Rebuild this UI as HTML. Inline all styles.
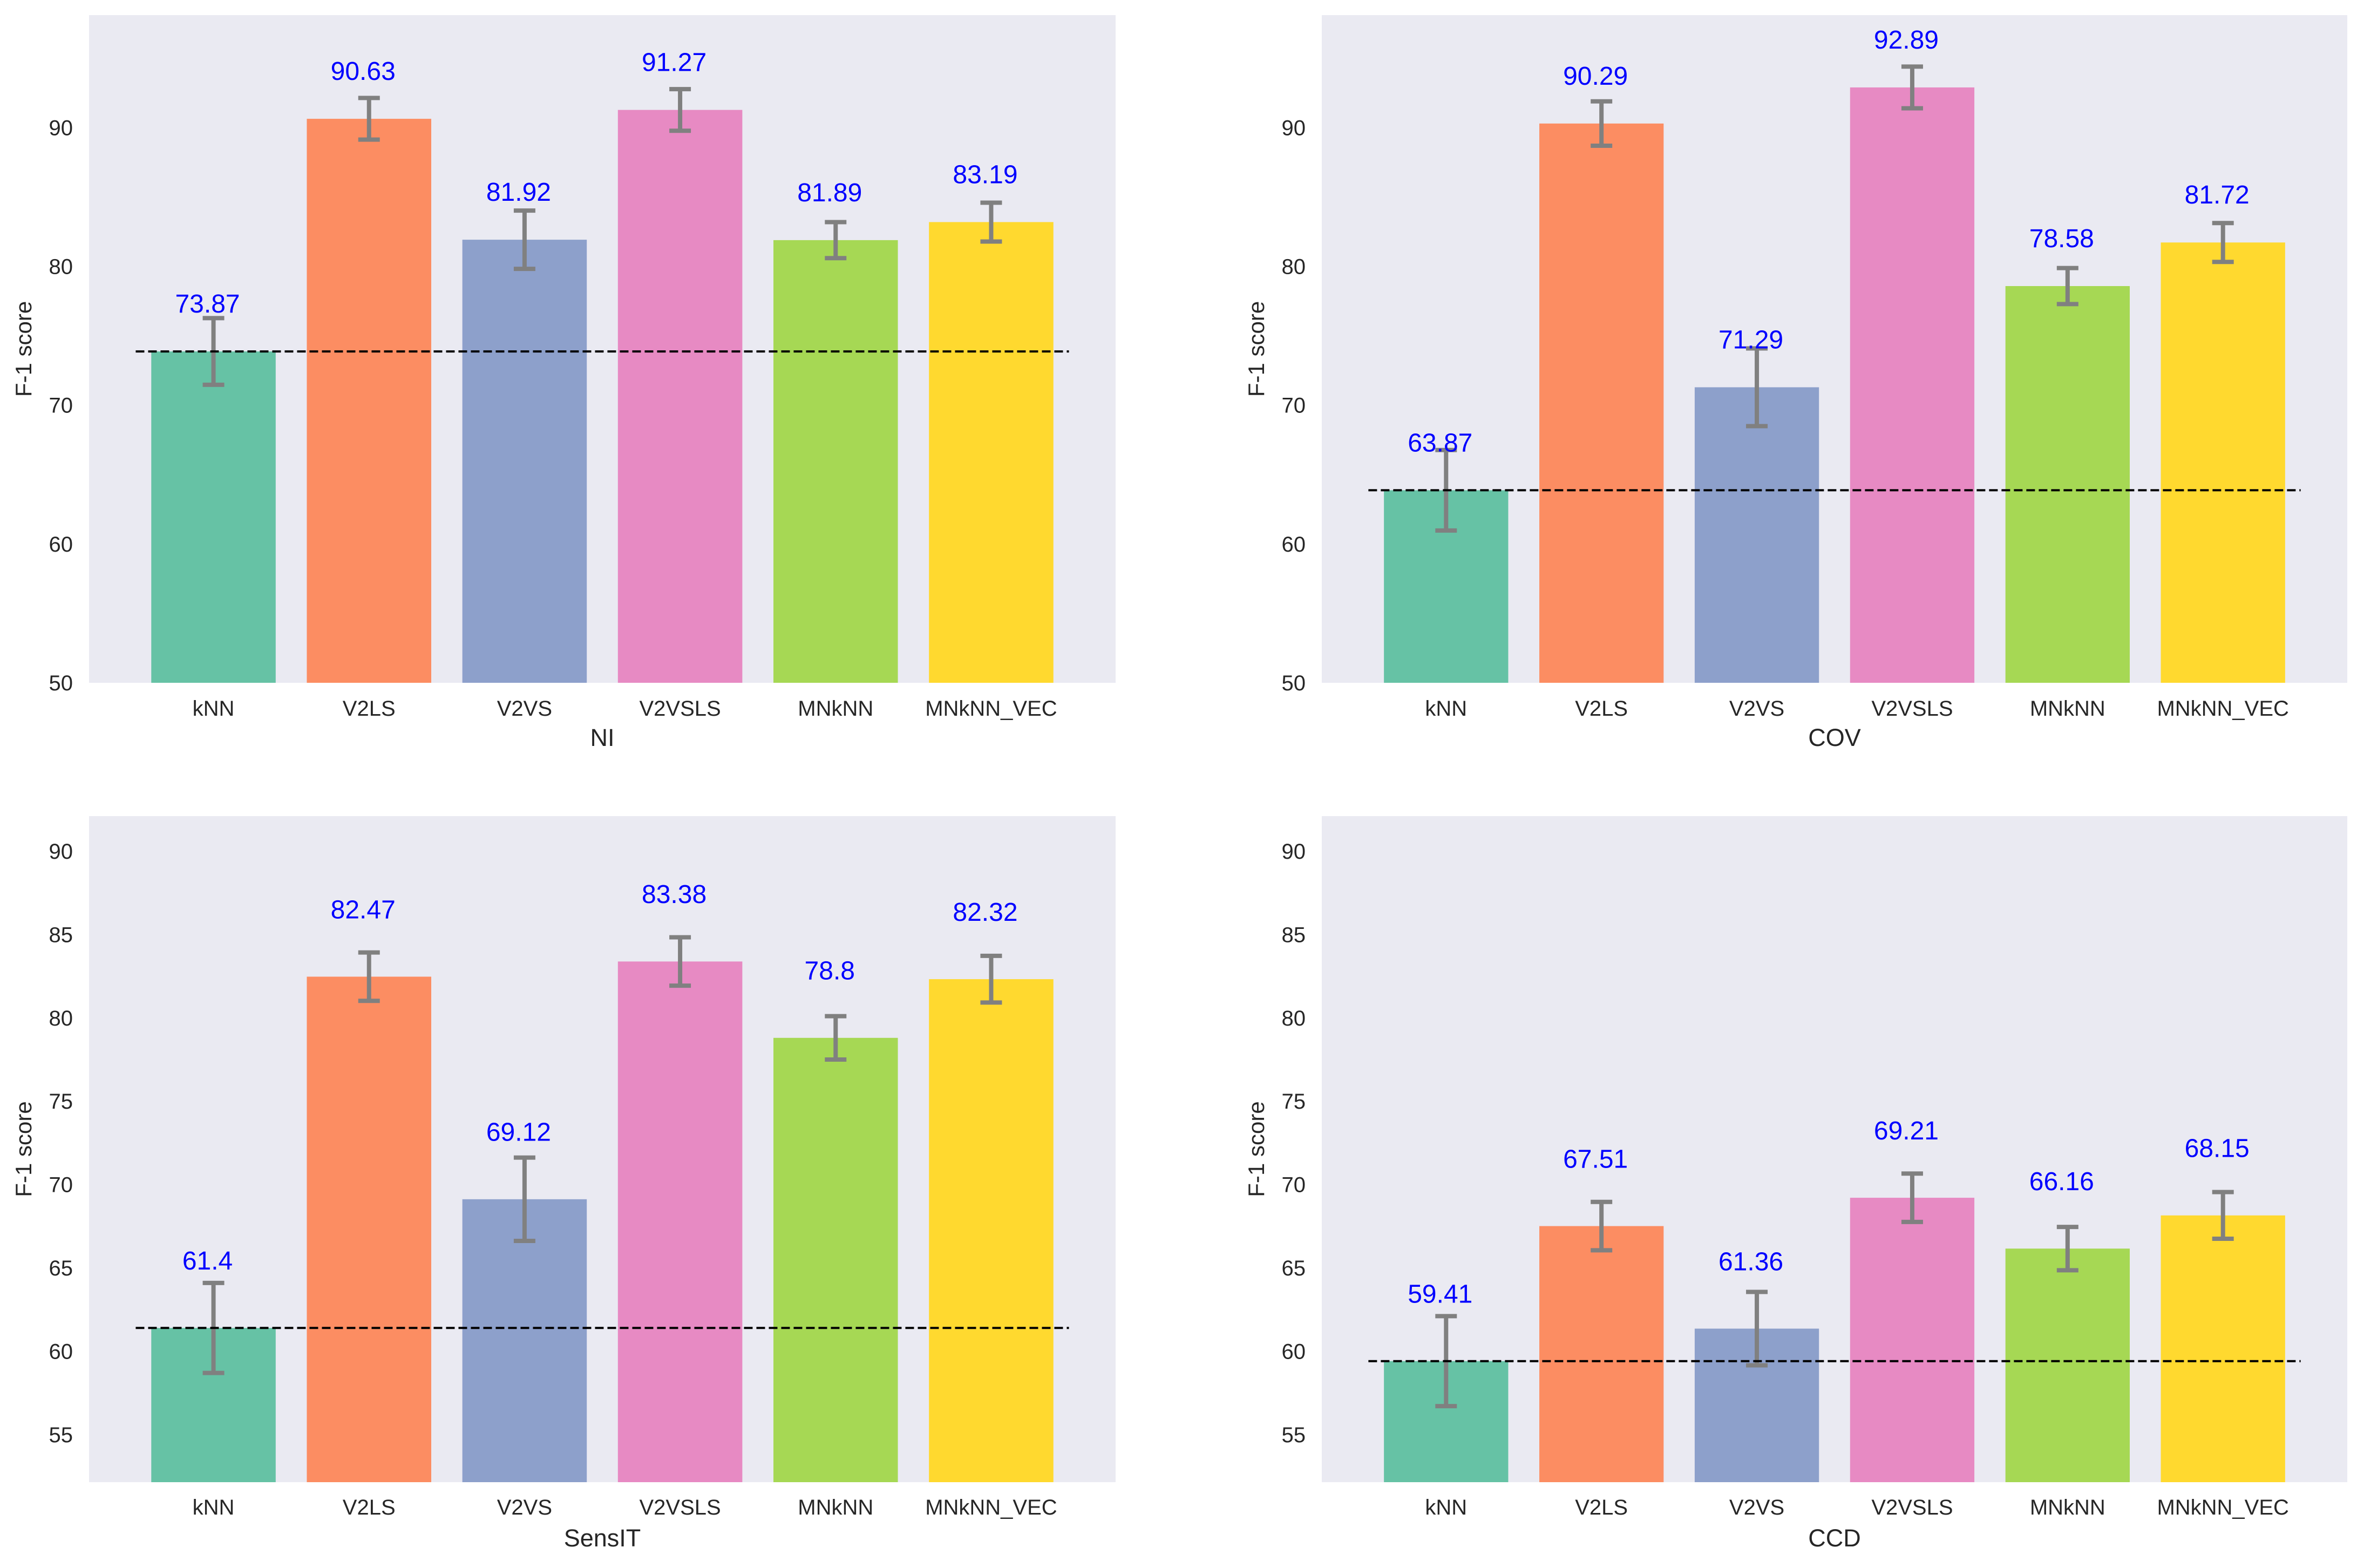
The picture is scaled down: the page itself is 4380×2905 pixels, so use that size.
<!DOCTYPE html>
<html><head><meta charset="utf-8"><style>
html,body{margin:0;padding:0;background:#fff;}
svg{display:block;font-family:"Liberation Sans",Arial,sans-serif;}
</style></head><body>
<svg id="fig" width="4380" height="2905" viewBox="0 0 4380 2905" xmlns="http://www.w3.org/2000/svg"></svg>
<script>
const categories = ["kNN","V2LS","V2VS","V2VSLS","MNkNN","MNkNN_VEC"];
const colors = ["#66c2a5","#fc8d62","#8da0cb","#e78ac3","#a6d854","#ffd92f"];
const valuesNI = [73.87,90.63,81.92,91.27,81.89,83.19];
const errorsNI = [2.4,1.5,2.1,1.5,1.3,1.4];
const valuesCOV = [63.87,90.29,71.29,92.89,78.58,81.72];
const errorsCOV = [2.9,1.6,2.8,1.5,1.3,1.4];
const valuesSensIT = [61.4,82.47,69.12,83.38,78.8,82.32];
const errorsSensIT = [2.7,1.45,2.5,1.45,1.3,1.4];
const valuesCCD = [59.41,67.51,61.36,69.21,66.16,68.15];
const errorsCCD = [2.7,1.45,2.2,1.45,1.3,1.4];
const ticksTop = [50,60,70,80,90];
const ticksBottom = [55,60,65,70,75,80,85,90];

const NS="http://www.w3.org/2000/svg";
const svg=document.getElementById('fig');
function mk(tag,attrs,parent,text){const e=document.createElementNS(NS,tag);for(const k in attrs)e.setAttribute(k,attrs[k]);if(text!==undefined)e.textContent=text;(parent||svg).appendChild(e);return e;}

const panels=[
 {name:"NI",vals:valuesNI,errs:errorsNI,ticks:ticksTop,L:165,R:2067,T:28,B:1265,ymin:50,ymax:98.1,off:2.8,tickY:1326,labY:1382},
 {name:"COV",vals:valuesCOV,errs:errorsCOV,ticks:ticksTop,L:2449,R:4349,T:28,B:1265,ymin:50,ymax:98.1,off:2.8,tickY:1326,labY:1382},
 {name:"SensIT",vals:valuesSensIT,errs:errorsSensIT,ticks:ticksBottom,L:165,R:2067,T:1512,B:2746,ymin:52.15,ymax:92.1,off:3.5,tickY:2806,labY:2865},
 {name:"CCD",vals:valuesCCD,errs:errorsCCD,ticks:ticksBottom,L:2449,R:4349,T:1512,B:2746,ymin:52.15,ymax:92.1,off:3.5,tickY:2806,labY:2865}
];

panels.forEach(p=>{
 const g=mk('g',{});
 
 
 const xs=i=>p.L+(i+0.8)/6.6*(p.R-p.L);
 const ys=v=>p.B-(v-p.ymin)/(p.ymax-p.ymin)*(p.B-p.T);
 const unit=(p.R-p.L)/6.6;
 const bg=mk('rect',{x:p.L,y:p.T,width:p.R-p.L,height:p.B-p.T,fill:'#eaeaf2'},g);
 
 
 p.ticks.forEach(t=>{
  const tl=mk('text',{x:p.L-30,y:ys(t)+14,'text-anchor':'end','font-size':40,fill:'#262626'},g,String(t));
  
  
 });
 p.vals.forEach((v,i)=>{
  const cx=xs(i);
  const b=mk('rect',{x:cx-0.4*unit,y:ys(v),width:0.8*unit,height:p.B-ys(v),fill:colors[i]},g);
  
  
  const e=p.errs[i];
  const eg=mk('g',{stroke:'#808080','stroke-width':8},g);
  
  
  mk('line',{x1:cx,x2:cx,y1:ys(v+e),y2:ys(v-e)},eg);
  mk('line',{x1:cx-20,x2:cx+20,y1:ys(v+e),y2:ys(v+e)},eg);
  mk('line',{x1:cx-20,x2:cx+20,y1:ys(v-e),y2:ys(v-e)},eg);
  const vt=mk('text',{x:cx-11,y:ys(v+p.off),'text-anchor':'middle','font-size':48,fill:'#0000ff'},g,String(v));
  
  
  const xt=mk('text',{x:cx,y:p.tickY,'text-anchor':'middle','font-size':40,fill:'#262626'},g,categories[i]);
  
  
 });
 const bl=mk('line',{x1:xs(-0.5),x2:xs(5.5),y1:ys(p.vals[0]),y2:ys(p.vals[0]),stroke:'#000','stroke-width':4,'stroke-dasharray':'16 7'},g);
 
 
 const xl=mk('text',{x:(p.L+p.R)/2,y:p.labY,'text-anchor':'middle','font-size':45,fill:'#262626'},g,p.name);
 
 
 const yc=(p.T+p.B)/2, yx=p.L-107;
 const yl=mk('text',{x:yx,y:yc,'text-anchor':'middle','font-size':42,fill:'#262626',transform:'rotate(-90 '+yx+' '+yc+')'},g,'F-1 score');
 
 
});
</script>
</body></html>
